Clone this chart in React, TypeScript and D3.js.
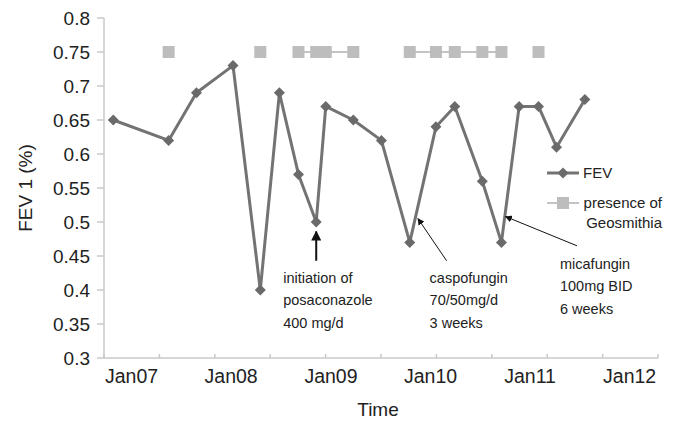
import * as d3 from "d3";

// FEV1 measurements (date, value)
const dates = [
  "2006-10-26", "2007-05-17", "2007-08-27", "2008-01-08", "2008-04-17",
  "2008-06-26", "2008-09-04", "2008-11-08", "2008-12-13", "2009-03-24",
  "2009-07-05", "2009-10-17", "2010-01-21", "2010-03-31", "2010-07-10",
  "2010-09-18", "2010-11-22", "2011-02-01", "2011-04-08", "2011-07-21",
];
const fev = [
  0.65, 0.62, 0.69, 0.73, 0.4, 0.69, 0.57, 0.5, 0.67, 0.65,
  0.62, 0.47, 0.64, 0.67, 0.56, 0.47, 0.67, 0.67, 0.61, 0.68,
];
// presence of Geosmithia (null = absent)
const geo: (number | null)[] = [
  null, 0.75, null, null, 0.75, null, 0.75, 0.75, 0.75, 0.75,
  null, 0.75, 0.75, 0.75, 0.75, 0.75, null, 0.75, null, null,
];

const yTicks = [0.3, 0.35, 0.4, 0.45, 0.5, 0.55, 0.6, 0.65, 0.7, 0.75, 0.8];
const yearLabels = [2007, 2008, 2009, 2010, 2011, 2012];

const annotations = [
  { tip: ["2008-11-08", 0.486], tail: ["2008-11-08", 0.443], lines: ["initiation of", "posaconazole", "400 mg/d"], dx: -33, dy: 22, w: 2 },
  { tip: ["2009-11-16", 0.505], tail: ["2010-03-01", 0.443], lines: ["caspofungin", "70/50mg/d", "3 weeks"], dx: -17, dy: 22, w: 1 },
  { tip: ["2010-10-03", 0.508], tail: ["2011-06-22", 0.465], lines: ["micafungin", "100mg BID", "6 weeks"], dx: -17, dy: 23, w: 1 },
];

const W = 677;
const H = 421;
const font = "'Liberation Sans', Arial, sans-serif";
const parse = d3.timeParse("%Y-%m-%d");

export default function App() {
  const x = d3
    .scaleTime()
    .domain([new Date(2006, 8, 22), new Date(2012, 3, 14)])
    .range([104, 658]);
  const y = d3.scaleLinear().domain([0.3, 0.8]).range([358, 18]);

  const pts = dates.map((d, i) => ({ date: parse(d) as Date, fev: fev[i], geo: geo[i] }));

  const line = d3
    .line<{ date: Date; fev: number }>()
    .x((d) => x(d.date))
    .y((d) => y(d.fev));
  const geoLine = d3
    .line<{ date: Date; geo: number | null }>()
    .defined((d) => d.geo != null)
    .x((d) => x(d.date))
    .y((d) => y(d.geo as number));

  const [d0, d1] = x.domain().map((d) => d.getTime());
  const xTicks = d3.range(11).map((i) => new Date(d0 + ((d1 - d0) * i) / 10));

  const diamond = (cx: number, cy: number, r: number) =>
    `M${cx},${cy - r}L${cx + r},${cy}L${cx},${cy + r}L${cx - r},${cy}Z`;

  return (
    <svg width={W} height={H} style={{ position: "absolute", left: 0, top: 0, background: "#fff" }} fontFamily={font}>
      <defs>
        <marker id="ah" viewBox="0 0 10 10" refX="9" refY="5" markerWidth="7" markerHeight="7" orient="auto-start-reverse" markerUnits="userSpaceOnUse">
          <path d="M0,0L10,5L0,10Z" fill="#111" />
        </marker>
        <marker id="ah2" viewBox="0 0 10 10" refX="9" refY="5" markerWidth="10" markerHeight="10" orient="auto-start-reverse" markerUnits="userSpaceOnUse">
          <path d="M0,0L10,5L0,10Z" fill="#111" />
        </marker>
      </defs>

      {/* axes */}
      <line x1={104} x2={104} y1={y(0.8)} y2={y(0.3)} stroke="#c8c8c8" strokeWidth={1.5} />
      <line x1={104} x2={658} y1={y(0.3)} y2={y(0.3)} stroke="#c8c8c8" strokeWidth={1.5} />
      {yTicks.map((t) => (
        <g key={t}>
          <line x1={97} x2={104} y1={y(t)} y2={y(t)} stroke="#c8c8c8" strokeWidth={1.5} />
          <text x={90} y={y(t)} dy="0.35em" textAnchor="end" fontSize={19} fill="#222">
            {t}
          </text>
        </g>
      ))}
      {xTicks.map((t, i) => (
        <line key={i} x1={x(t)} x2={x(t)} y1={y(0.3) - 4} y2={y(0.3)} stroke="#c8c8c8" strokeWidth={1.5} />
      ))}
      {yearLabels.map((yr) => (
        <text key={yr} x={x(new Date(yr, 0, 1))} y={383} textAnchor="middle" fontSize={19.5} fill="#222">
          {`Jan${String(yr).slice(2)}`}
        </text>
      ))}
      <text x={378} y={416} textAnchor="middle" fontSize={19} fill="#222">
        Time
      </text>
      <text transform="translate(32,188) rotate(-90)" textAnchor="middle" fontSize={19} fill="#222">
        FEV 1 (%)
      </text>

      {/* Geosmithia */}
      <path d={geoLine(pts) ?? ""} fill="none" stroke="#c4c4c4" strokeWidth={2} />
      {pts
        .filter((p) => p.geo != null)
        .map((p, i) => (
          <rect key={i} x={x(p.date) - 6} y={y(p.geo as number) - 6} width={12} height={12} fill="#bdbdbd" />
        ))}

      {/* FEV */}
      <path d={line(pts) ?? ""} fill="none" stroke="#737373" strokeWidth={3} strokeLinejoin="round" />
      {pts.map((p, i) => (
        <path key={i} d={diamond(x(p.date), y(p.fev), 5.5)} fill="#6a6a6a" />
      ))}

      {/* annotations */}
      {annotations.map((a, i) => {
        const tx = x(parse(a.tail[0] as string) as Date);
        const ty = y(a.tail[1] as number);
        const hx = x(parse(a.tip[0] as string) as Date);
        const hy = y(a.tip[1] as number);
        return (
          <g key={i}>
            <line x1={tx} y1={ty} x2={hx} y2={hy} stroke="#111" strokeWidth={a.w} markerEnd={a.w > 1 ? "url(#ah2)" : "url(#ah)"} />
            {a.lines.map((l, j) => (
              <text key={j} x={tx + a.dx} y={ty + a.dy + j * 22.5} fontSize={14.5} fill="#222">
                {l}
              </text>
            ))}
          </g>
        );
      })}

      {/* legend */}
      <line x1={547} x2={579} y1={173} y2={173} stroke="#737373" strokeWidth={3} />
      <path d={diamond(563, 173, 5.5)} fill="#6a6a6a" />
      <text x={583} y={178} fontSize={15} fill="#222">FEV</text>
      <line x1={547} x2={579} y1={203} y2={203} stroke="#c4c4c4" strokeWidth={2} />
      <rect x={557} y={197} width={12} height={12} fill="#bdbdbd" />
      <text x={662} y={208} textAnchor="end" fontSize={15} fill="#222">presence of</text>
      <text x={662} y={228} textAnchor="end" fontSize={15} fill="#222">Geosmithia</text>
    </svg>
  );
}
